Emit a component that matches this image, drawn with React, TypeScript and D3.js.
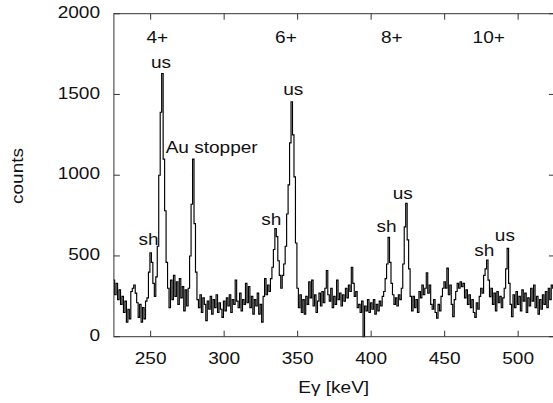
import React from "react";
import * as d3 from "d3";

const startEnergy = 225;
const counts: number[] = [
  350, 260, 330, 230, 290, 200, 250, 150, 220, 90,
  170, 110, 280, 300, 320, 270, 210, 120, 200, 90,
  180, 110, 220, 240, 400, 520, 460, 330, 250, 370,
  560, 1000, 1390, 1630, 1100, 780, 460, 300, 180, 350,
  230, 380, 250, 340, 200, 360, 240, 310, 160, 290,
  190, 300, 500, 820, 1100, 700, 400, 230, 180, 260,
  150, 240, 200, 100, 220, 170, 250, 140, 230, 180,
  260, 150, 210, 170, 120, 220, 160, 240, 190, 260,
  150, 230, 200, 350, 220, 180, 270, 160, 230, 200,
  330, 210, 310, 180, 250, 140, 230, 190, 270, 140,
  200, 90, 250, 360, 260, 320, 280, 360, 430, 540,
  670, 620, 470, 380, 300, 380, 450, 560, 760, 940,
  1200, 1455, 1250, 990, 580, 300, 180, 260, 150, 230,
  140, 250, 200, 340, 240, 350, 190, 260, 150, 220,
  270, 190, 280, 210, 300, 410, 260, 220, 300, 180,
  250, 200, 350, 230, 270, 190, 260, 220, 300, 240,
  320, 280, 430, 330, 250, 280, 180, 200, 150, 220,
  0, 190, 160, 230, 150, 210, 170, 230, 140, 200,
  160, 220, 190, 250, 280, 360, 450, 615, 460, 330,
  260, 200, 240, 190, 260, 230, 300, 450, 680, 826,
  600, 420, 250, 160, 250, 180, 230, 150, 280, 240,
  320, 260, 300, 396, 270, 320, 200, 170, 230, 150,
  115, 200, 160, 250, 300, 340, 300, 425, 260, 320,
  200, 124, 230, 280, 330, 300, 340, 310, 330, 240,
  290, 200, 260, 180, 230, 150, 120, 210, 170, 250,
  300, 270, 380, 420, 475, 350, 248, 300, 200, 270,
  160, 280, 210, 250, 180, 240, 300, 420, 547, 330,
  200, 124, 260, 180, 280, 200, 250, 160, 290, 220,
  270, 150, 240, 190, 300, 220, 320, 180, 250, 140,
  230, 170, 260, 200, 280, 180, 300, 230, 320, 300,
];

const xTicks = [250, 300, 350, 400, 450, 500];
const yTicks = [0, 500, 1000, 1500, 2000];
const levelLabels = ["4+", "6+", "8+", "10+"];
const levelEnergies = [254.5, 342, 414, 480];
const peakLabels = ["sh", "us", "Au stopper", "sh", "us", "sh", "us", "sh", "us"];
const peakLabelE = [248.5, 257, 291.5, 332, 347, 410.5, 421.5, 477, 491];
const peakLabelY = [245, 68, 153, 225, 95, 232, 199, 256, 241];

const W = 553;
const H = 403;
const left = 113.9;
const right = 554.9;
const top = 13.7;
const bottom = 336.7;
const FONT = "'Liberation Sans', Arial, Helvetica, sans-serif";
const FS = 16;
const SX = 1.19;

function Label({ x, y, text, anchor = "middle", baseline = "auto", rotate = 0 }: any) {
  const t = rotate
    ? `translate(${x},${y}) rotate(${rotate}) scale(${SX},1)`
    : `translate(${x},${y}) scale(${SX},1)`;
  return (
    <text
      transform={t}
      textAnchor={anchor}
      dominantBaseline={baseline}
      fontFamily={FONT}
      fontSize={FS}
      fill="#111"
    >
      {text}
    </text>
  );
}

export default function App() {
  const x = d3.scaleLinear().domain([225, 525]).range([left, right]);
  const y = d3.scaleLinear().domain([0, 2000]).range([bottom, top]);
  const data = counts.map((c, i) => ({ e: startEnergy + i, c }));
  const line = d3
    .line<{ e: number; c: number }>()
    .x((d) => x(d.e))
    .y((d) => y(d.c))
    .curve(d3.curveStep);
  const path = line(data) || "";
  const tl = 6;

  return (
    <svg
      width={W}
      height={H}
      style={{ position: "absolute", left: 0, top: 0, background: "#fff" }}
    >
      <rect x={0} y={0} width={W} height={H} fill="#fff" />
      <path d={path} fill="none" stroke="#000" strokeWidth={1.15} strokeLinejoin="miter" />
      <rect
        x={left}
        y={top}
        width={right - left}
        height={bottom - top}
        fill="none"
        stroke="#333"
        strokeWidth={1}
      />
      {xTicks.map((t) => (
        <g key={"xt" + t}>
          <line x1={x(t)} x2={x(t)} y1={bottom} y2={bottom - tl} stroke="#333" />
          <line x1={x(t)} x2={x(t)} y1={top} y2={top + tl} stroke="#333" />
          <Label x={x(t)} y={359.5} text={String(t)} baseline="middle" />
        </g>
      ))}
      {yTicks.map((t) => (
        <g key={"yt" + t}>
          <line x1={left} x2={left + tl} y1={y(t)} y2={y(t)} stroke="#333" />
          <line x1={right} x2={right - tl} y1={y(t)} y2={y(t)} stroke="#333" />
          <Label x={100} y={y(t)} text={String(t)} anchor="end" baseline="middle" />
        </g>
      ))}
      <Label x={333.7} y={388.5} text="Eγ [keV]" baseline="middle" />
      <Label x={19} y={176} text="counts" baseline="middle" rotate={-90} />
      {levelLabels.map((l, i) => (
        <Label key={"lv" + i} x={x(levelEnergies[i])} y={38.5} text={l} baseline="middle" />
      ))}
      {peakLabels.map((l, i) => (
        <Label key={"pk" + i} x={x(peakLabelE[i])} y={peakLabelY[i]} text={l} />
      ))}
    </svg>
  );
}
